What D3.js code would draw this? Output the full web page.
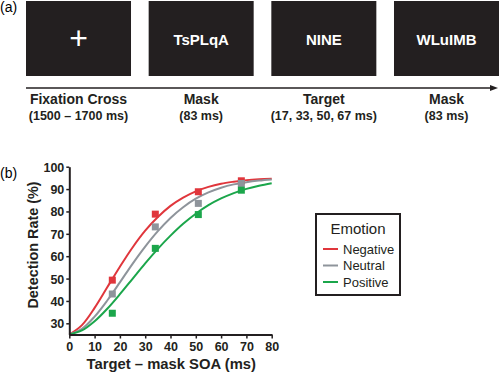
<!DOCTYPE html>
<html>
<head>
<meta charset="utf-8">
<script src="https://cdn.jsdelivr.net/npm/d3@7"></script>
<style>
  body { margin: 0; background: #fff; }
  svg text { font-family: "Liberation Sans", Arial, sans-serif; }
</style>
</head>
<body>
<svg id="fig" width="499" height="375"></svg>
<script>
// panel (a) - trial sequence
const frames = ["+", "TsPLqA", "NINE", "WLuIMB"]
const frameNames = ["Fixation Cross", "Mask", "Target", "Mask"]
const frameTimes = ["(1500 \u2013 1700 ms)", "(83 ms)", "(17, 33, 50, 67 ms)", "(83 ms)"]

// panel (b) - detection rate by SOA
const soa = [17, 34, 51, 68]
const negative = [49.3, 78.8, 88.8, 93.7]
const neutral = [43.1, 73.1, 83.6, 92.5]
const positive = [34.5, 63.5, 78.6, 89.5]
// fitted curves
const fitSoa = [0, 5, 10, 15, 20, 25, 30, 35, 40, 45, 50, 55, 60, 65, 70, 75, 80]
const fitNegative = [25, 29.2, 36.9, 46.1, 55.3, 63.9, 71.4, 77.5, 82.5, 86.2, 89.0, 91.0, 92.4, 93.3, 94.0, 94.4, 94.6]
const fitNeutral = [25, 27.5, 33.0, 40.2, 48.3, 56.6, 64.3, 71.2, 77.1, 81.9, 85.7, 88.5, 90.6, 92.1, 93.1, 93.8, 94.3]
const fitPositive = [25, 26.8, 30.9, 36.5, 43.0, 49.9, 56.8, 63.3, 69.2, 74.5, 79.0, 82.8, 85.8, 88.2, 90.1, 91.5, 92.6]
const emotions = ["Negative", "Neutral", "Positive"]
const yTicks = [30, 40, 50, 60, 70, 80, 90, 100]
const xTicks = [0, 10, 20, 30, 40, 50, 60, 70, 80]

const colors = {Negative: "#e0363c", Neutral: "#8e949b", Positive: "#1ba64b"}
const series = [
    {name: "Negative", pts: negative, fit: fitNegative},
    {name: "Neutral", pts: neutral, fit: fitNeutral},
    {name: "Positive", pts: positive, fit: fitPositive}
]

const svg = d3.select("#fig")

// ---------- (a)
svg.append("text").attr("x", 0).attr("y", 12).text("(a)").style("font-size", "14px")

const band = d3.scaleBand().domain(d3.range(frames.length)).range([26, 499]).paddingInner(0.144)

const seq = svg.append("g")
seq.selectAll("rect").data(frames).enter().append("rect")
    .attr("x", (d, i) => band(i)).attr("y", 1)
    .attr("width", band.bandwidth()).attr("height", 75)
    .attr("fill", "#231f20")

seq.selectAll("text.frame").data(frames).enter().append("text")
    .attr("class", "frame")
    .attr("x", (d, i) => band(i) + band.bandwidth() / 2)
    .attr("y", (d, i) => i == 0 ? 49 : 45)
    .attr("text-anchor", "middle")
    .attr("fill", "#fff")
    .style("font-size", (d, i) => i == 0 ? "32px" : "15px")
    .style("font-weight", (d, i) => i == 0 ? "normal" : "bold")
    .text(d => d)

seq.append("line").attr("x1", 26).attr("x2", 492).attr("y1", 88).attr("y2", 88)
    .attr("stroke", "#231f20").attr("stroke-width", 1.5)
seq.append("path").attr("d", "M490,85 L498,88 L490,91 Z").attr("fill", "#231f20")

seq.selectAll("text.name").data(frameNames).enter().append("text")
    .attr("class", "name")
    .attr("x", (d, i) => band(i) + band.bandwidth() / 2)
    .attr("y", 104)
    .attr("text-anchor", "middle")
    .style("font-size", "14px").style("font-weight", "bold").attr("fill", "#231f20")
    .text(d => d)

seq.selectAll("text.time").data(frameTimes).enter().append("text")
    .attr("class", "time")
    .attr("x", (d, i) => band(i) + band.bandwidth() / 2)
    .attr("y", 119.5)
    .attr("text-anchor", "middle")
    .style("font-size", "12.5px").style("font-weight", "bold").attr("fill", "#231f20")
    .text(d => d)

// ---------- (b)
svg.append("text").attr("x", 0).attr("y", 178).text("(b)").style("font-size", "14px")

const x = d3.scaleLinear().domain([0, 80]).range([69.3, 271.7])
const y = d3.scaleLinear().domain([25, 100]).range([334.5, 166.7])

const line = d3.line()
    .x((d, i) => x(fitSoa[i]))
    .y(d => y(d))
    .curve(d3.curveCatmullRom)

const plot = svg.append("g")
plot.selectAll("path.fit").data(series).enter().append("path")
    .attr("class", "fit")
    .attr("d", d => line(d.fit))
    .attr("fill", "none")
    .attr("stroke", d => colors[d.name])
    .attr("stroke-width", 2)

series.forEach(s => {
    plot.selectAll(null).data(s.pts).enter().append("rect")
        .attr("x", (d, i) => x(soa[i]) - 3.5)
        .attr("y", d => y(d) - 3.5)
        .attr("width", 7).attr("height", 7)
        .attr("fill", colors[s.name])
})

const yAxis = svg.append("g")
    .attr("transform", "translate(69.3,0)")
    .call(d3.axisLeft(y).tickValues(yTicks).tickSize(3).tickSizeOuter(0))
const xAxis = svg.append("g")
    .attr("transform", "translate(0,334.5)")
    .call(d3.axisBottom(x).tickValues(xTicks).tickSize(4).tickSizeOuter(0))

;[yAxis, xAxis].forEach(a => {
    a.select(".domain").attr("stroke", "#231f20").attr("stroke-width", 2)
    a.selectAll(".tick line").attr("stroke", "#231f20").attr("stroke-width", 1.5)
    a.selectAll(".tick text")
        .style("font-family", "'Liberation Sans', Arial, sans-serif")
        .style("font-size", "12.5px").style("font-weight", "bold").attr("fill", "#231f20")
})
yAxis.selectAll(".tick text").attr("x", -5).attr("dy", "0.36em")
xAxis.selectAll(".tick text").attr("y", 6).attr("dy", "0.8em")

svg.append("text")
    .attr("transform", "translate(38,245) rotate(-90)")
    .attr("text-anchor", "middle")
    .style("font-size", "14.4px").style("font-weight", "bold").attr("fill", "#231f20")
    .text("Detection Rate (%)")

svg.append("text")
    .attr("x", 171.3).attr("y", 369)
    .attr("text-anchor", "middle")
    .style("font-size", "14.8px").style("font-weight", "bold").attr("fill", "#231f20")
    .text("Target \u2013 mask SOA (ms)")

// legend
const legend = svg.append("g")
legend.append("rect").attr("x", 316).attr("y", 214).attr("width", 84).attr("height", 81)
    .attr("fill", "#fff").attr("stroke", "#231f20").attr("stroke-width", 2)
legend.append("text").attr("x", 358).attr("y", 234).attr("text-anchor", "middle")
    .style("font-size", "15px").attr("fill", "#231f20").text("Emotion")
const rows = legend.selectAll("g.row").data(emotions).enter().append("g")
    .attr("class", "row")
    .attr("transform", (d, i) => `translate(0,${249 + i * 16.5})`)
rows.append("line").attr("x1", 323).attr("x2", 338)
    .attr("stroke", d => colors[d]).attr("stroke-width", 2)
rows.append("text").attr("x", 343).attr("y", 4.5)
    .style("font-size", "13px").attr("fill", "#231f20").text(d => d)
</script>
</body>
</html>
